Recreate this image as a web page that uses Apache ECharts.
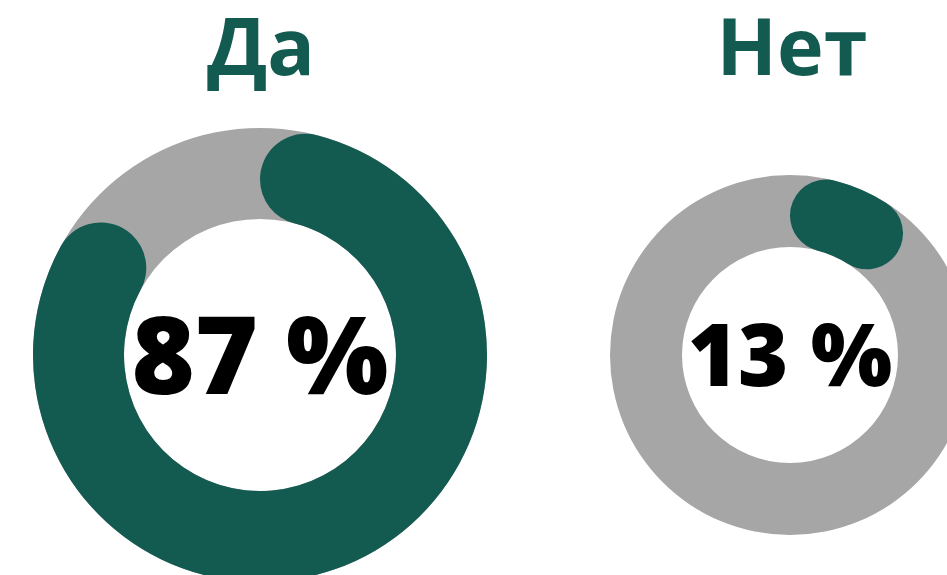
<!DOCTYPE html>
<html style="height: 100%">

<head>
    <meta charset="utf-8">
    <script src="https://cdn.jsdelivr.net/npm/echarts@6/dist/echarts.min.js"></script>
</head>

<body style="height: 100%; margin: 0">
    <div id="main" style="width: 947px;height:575px;"></div>
    <script type="text/javascript">
        var answers = ['Да', 'Нет'];
        var shares = [87, 13];

        var green = '#135a50';
        var grey = '#a6a6a6';
        var centers = [[260, 355], [790, 355]];
        var radii = [[136, 227], [108, 180]];
        var labelSizes = [108, 86];
        var titleX = [256, 787];

        var myChart = echarts.init(document.getElementById('main'));
        var series = [];
        var titles = [];
        answers.forEach(function (name, i) {
            var band = (radii[i][1] - radii[i][0]) / 2;
            // grey track under the value arc
            series.push({
                type: 'pie',
                silent: true,
                center: centers[i],
                radius: radii[i],
                label: { show: false },
                itemStyle: { color: grey },
                data: [{ value: 100, name: 'track' }]
            });
            series.push({
                type: 'pie',
                silent: true,
                center: centers[i],
                radius: radii[i],
                startAngle: 90,
                clockwise: true,
                data: [{
                    value: shares[i],
                    name: name,
                    itemStyle: { color: green, borderRadius: band },
                    label: {
                        show: true,
                        position: 'center',
                        formatter: '{c} %',
                        offset: [0, i === 0 ? 8 : 6],
                        fontFamily: 'Open Sans',
                        fontWeight: 800,
                        fontSize: labelSizes[i],
                        color: '#000'
                    }
                }, {
                    value: 100 - shares[i],
                    name: 'rest',
                    itemStyle: { color: 'transparent' },
                    label: { show: false }
                }],
                labelLine: { show: false }
            });
            titles.push({
                text: name,
                left: titleX[i],
                top: 8,
                textAlign: 'center',
                textStyle: {
                    fontFamily: 'Open Sans',
                    fontWeight: 'bold',
                    fontSize: 79,
                    color: green
                }
            });
        });

        myChart.setOption({
            animation: false,
            title: titles,
            series: series
        });
    </script>
</body>

</html>
